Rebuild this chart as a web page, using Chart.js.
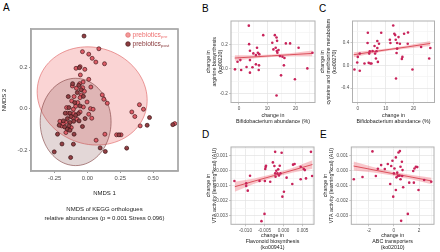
<!DOCTYPE html>
<html>
<head>
<meta charset="utf-8">
<script src="https://cdn.jsdelivr.net/npm/chart.js@4/dist/chart.umd.min.js"></script>
<style>
  body { margin: 0; background: #fff; width: 440px; height: 252px; position: relative; overflow: hidden; font-family: "Liberation Sans", Arial, sans-serif; }
  canvas { position: absolute; }
  .tag { position: absolute; font-size: 10px; line-height: 10px; color: #000; }
</style>
</head>
<body>
<div class="tag" style="left:3px;top:2.7px">A</div>
<div class="tag" style="left:202px;top:4.4px">B</div>
<div class="tag" style="left:319px;top:4.4px">C</div>
<div class="tag" style="left:202px;top:130.4px">D</div>
<div class="tag" style="left:320px;top:130.4px">E</div>
<canvas id="panelA" width="196" height="252" style="left:0;top:0"></canvas>
<canvas id="panelB" width="124" height="126" style="left:196px;top:0"></canvas>
<canvas id="panelC" width="122" height="126" style="left:318px;top:0"></canvas>
<canvas id="panelD" width="124" height="126" style="left:196px;top:126px"></canvas>
<canvas id="panelE" width="122" height="126" style="left:318px;top:126px"></canvas>
<script>
// A - NMDS scores of KEGG orthologues
const preX = [-0.038, 0.010, 0.087, 0.036, 0.064, 0.130, -0.056, -0.087, -0.020, -0.054, 0.010, -0.033, -0.115, -0.059, -0.036, 0.026, -0.023, -0.102, -0.046, -0.056, 0.113, 0.125, 0.151, -0.074, -0.090, -0.107, 0.023, 0.043, -0.151, -0.105, -0.113, 0.010, 0.033, -0.166, -0.197, -0.123, -0.164, 0.133, 0.066, 0.222, 0.256, 0.338, 0.361, 0.396, 0.427, 0.402, 0.665, -0.210, -0.184, -0.079, -0.031, -0.084, -0.003, -0.120, -0.159, -0.056];
const preY = [0.274, 0.262, 0.288, 0.242, 0.224, 0.216, 0.202, 0.194, 0.189, 0.162, 0.141, 0.128, 0.109, 0.120, 0.101, 0.104, 0.083, 0.058, 0.066, 0.053, 0.066, 0.045, 0.026, 0.029, 0.011, -0.003, 0.000, -0.003, -0.022, -0.024, -0.043, -0.027, -0.046, -0.066, -0.083, -0.091, -0.115, -0.123, -0.152, -0.126, -0.126, -0.016, -0.038, 0.019, -0.003, -0.083, -0.072, -0.061, -0.072, -0.051, 0.008, 0.098, 0.032, 0.037, 0.005, -0.016];
const postX = [-0.026, -0.061, -0.113, -0.066, -0.049, -0.146, -0.031, -0.097, -0.056, -0.141, -0.169, -0.133, -0.069, -0.125, -0.153, -0.090, -0.184, -0.133, -0.105, -0.215, -0.174, -0.141, -0.153, -0.133, -0.038, -0.228, -0.102, -0.194, -0.107, -0.253, -0.128, 0.097, 0.136, 0.240, 0.299, 0.473, 0.455, 0.650, -0.064, -0.077, -0.018];
const postY = [0.349, 0.197, 0.120, 0.112, 0.091, 0.058, 0.059, 0.029, 0.013, 0.005, -0.022, -0.022, -0.024, -0.038, -0.048, -0.032, -0.059, -0.067, -0.061, -0.080, -0.088, -0.083, -0.099, -0.104, -0.086, -0.123, -0.123, -0.170, -0.171, -0.208, -0.235, -0.189, -0.206, -0.126, -0.190, -0.043, -0.080, -0.077, -0.059, 0.077, -0.048];
const preEllipseCentre = [0.036, 0.061];
const preEllipseAxes = [[0.399, -0.091], [-0.128, -0.218]];
const postEllipseCentre = [-0.09, -0.064];
const postEllipseAxes = [[0.0, 0.21], [0.27, 0.0]];
const aXTicks = [-0.25, 0, 0.25, 0.5];
const aXLabels = ["-0.25", "0.00", "0.25", "0.50"];
const aYTicks = [-0.2, 0, 0.2];
const aYLabels = ["-0.2", "0.0", "0.2"];

// B, C - Bifidobacterium abundance vs pathways
const bX = [-1.4, -0.5, 0.8, 0.5, 2.7, 3.5, 3.6, 3.9, 3.9, 3.9, 4.8, 5.1, 6.0, 6.0, 6.4, 6.7, 7.1, 7.0, 7.2, 8.6, 11.8, 12.7, 13.3, 13.5, 12.2, 13.0, 13.4, 13.6, 14.0, 14.5, 15.4, 15.9, 16.1, 16.6, 18.1, 14.9, 13.3, 19.8, 21.1, 24.2, 26.0];
const bY = [-0.003, 0.060, -0.008, 0.073, 0.016, 0.356, 0.204, 0.150, 0.073, -0.030, 0.014, 0.128, 0.038, 0.114, 0.174, 0.133, 0.030, -0.008, 0.122, 0.278, 0.215, 0.278, 0.258, 0.231, 0.161, 0.174, 0.147, 0.133, 0.155, 0.106, 0.101, 0.030, 0.090, 0.210, 0.210, -0.052, -0.218, -0.084, 0.174, 0.005, 0.133];
const bFitX = [-1.5, 5, 11.5, 18, 26];
const bFitY = [0.090, 0.099, 0.108, 0.117, 0.128];
const bFitLo = [0.068, 0.086, 0.098, 0.104, 0.104];
const bFitHi = [0.112, 0.112, 0.118, 0.130, 0.152];

const cX = [-1.2, -0.2, 0.0, 0.7, 0.7, 2.4, 3.6, 3.5, 3.9, 4.1, 4.3, 4.5, 4.9, 5.3, 6.0, 6.2, 6.5, 6.7, 7.0, 7.0, 7.2, 7.6, 8.4, 11.5, 11.7, 12.7, 13.1, 13.4, 13.6, 13.7, 14.1, 14.6, 15.1, 13.9, 14.1, 15.8, 16.0, 16.6, 18.0, 17.9, 19.6, 22.7, 25.6, 26.0];
const cY = [-0.070, 0.053, 0.152, 0.210, -0.093, 0.035, 0.578, 0.397, 0.047, 0.210, 0.251, 0.035, 0.035, 0.257, 0.345, 0.210, 0.123, 0.251, 0.310, 0.432, 0.064, 0.385, 0.578, 0.456, 0.397, 0.707, 0.561, 0.537, 0.456, -0.228, 0.397, 0.502, 0.385, 0.222, 0.298, 0.117, 0.152, 0.561, 0.584, 0.385, -0.070, 0.327, 0.123, 0.310];
const cFitX = [-1.5, 5, 11.5, 18, 26];
const cFitY = [0.19, 0.24, 0.285, 0.33, 0.39];
const cFitLo = [0.145, 0.212, 0.265, 0.302, 0.345];
const cFitHi = [0.235, 0.268, 0.305, 0.358, 0.435];

const bifidoTicks = [0, 10, 20];
const bifidoLabels = ["0", "10", "20"];
const bifidoMinor = [5, 15, 25];

// D, E - VTA activity vs pathways
const dX = [-0.0129, -0.0098, -0.0098, -0.0094, -0.0088, -0.0063, -0.0058, -0.0050, -0.0049, -0.0048, -0.0047, -0.0046, -0.0035, -0.0028, -0.0022, -0.0024, -0.0022, -0.0021, -0.0019, -0.0016, -0.0014, -0.0012, -0.0010, -0.0008, -0.0005, -0.0003, 0.0001, 0.0008, 0.0023, 0.0025, 0.0029, 0.0045, 0.0045, 0.0053, 0.0056, 0.0059, 0.0072, 0.0075];
const dY = [-0.00068, -0.00084, -0.00101, -0.00132, -0.00033, -0.00068, -0.00334, -0.00286, -0.00068, 0.00011, 0.00024, 0.00033, -0.00073, 0.00055, 0.00125, 0.00031, -0.00018, -0.00040, 0.00000, -0.00018, 0.00009, -0.00031, 0.00033, -0.00018, 0.00119, -0.00172, -0.00139, -0.00046, -0.00088, 0.00040, 0.00044, 0.00026, -0.00057, 0.00011, 0.00004, -0.00051, 0.00125, -0.00035];
const dFitX = [-0.0128, -0.0077, -0.0026, 0.0025, 0.0076];
const dFitY = [-0.00106, -0.00069, -0.00033, 0.00004, 0.00041];
const dFitLo = [-0.00139, -0.00087, -0.00045, -0.00012, 0.00013];
const dFitHi = [-0.00073, -0.00051, -0.00021, 0.00020, 0.00069];
const dXTicks = [-0.01, -0.005, 0, 0.005];
const dXLabels = ["-0.010", "-0.005", "0.000", "0.005"];
const dXMinor = [-0.0125, -0.0075, -0.0025, 0.0025, 0.0075];

const eX = [-3.18, -2.49, -1.70, -1.43, -1.27, -1.01, -0.72, -0.48, -0.29, -0.21, -0.11, -0.05, 0.00, 0.05, 0.16, 0.16, 0.21, 0.27, 0.32, 0.37, 0.48, 0.45, 0.53, 0.53, 0.58, 0.64, 0.66, 0.69, 0.74, 1.11, 1.22, 1.54, 1.64, 1.75, 1.86, 1.59, 1.96, 2.41, 2.97];
const eY = [-0.00057, -0.00042, 0.00128, -0.00035, 0.00013, 0.00037, 0.00011, 0.00044, -0.00088, 0.00031, 0.00066, -0.00172, -0.00018, 0.00015, 0.00088, -0.00128, -0.00044, -0.00013, -0.00035, 0.00121, 0.00130, -0.00033, -0.00057, 0.00026, -0.00332, 0.00059, -0.00035, 0.00004, -0.00110, -0.00286, -0.00079, -0.00002, 0.00015, 0.00026, 0.00024, -0.00079, -0.00128, -0.00062, -0.00073];
const eFitX = [-3.2, -1.65, -0.1, 1.45, 3.0];
const eFitY = [0.00031, 0.00006, -0.00019, -0.00043, -0.00068];
const eFitLo = [0.00001, -0.00012, -0.00031, -0.00058, -0.00090];
const eFitHi = [0.00061, 0.00024, -0.00007, -0.00028, -0.00046];
const eXTicks = [-2, 0, 2];
const eXLabels = ["-2", "0", "2"];
const eXMinor = [-3, -1, 1, 3];

const vtaTicks = [-0.003, -0.002, -0.001, 0, 0.001];
const vtaLabels = ["-0.003", "-0.002", "-0.001", "0.000", "0.001"];
const vtaMinor = [-0.0025, -0.0015, -0.0005, 0.0005, 0.0015];

const font = "'Liberation Sans', Arial, sans-serif";
const pairs = (xs, ys) => xs.map((x, i) => ({ x: x, y: ys[i] }));
const tickList = (major, minor) =>
  major.map((v) => ({ value: v })).concat(minor.map((v) => ({ value: v, minor: true })));

const strokeFrame = (chart, colour, width) => {
  const a = chart.chartArea;
  const ctx = chart.ctx;
  ctx.save();
  ctx.strokeStyle = colour;
  ctx.lineWidth = width;
  ctx.strokeRect(a.left, a.top, a.right - a.left, a.bottom - a.top);
  ctx.restore();
};

// grey frame round the plotting area
const frame = (colour, width) => ({
  id: "panelBox",
  afterDraw(chart) { strokeFrame(chart, colour, width); },
});

const ellipseList = [
  { c: preEllipseCentre, ax: preEllipseAxes, fill: "rgba(240,120,120,0.32)", line: "rgba(226,110,110,0.85)" },
  { c: postEllipseCentre, ax: postEllipseAxes, fill: "rgba(115,55,55,0.2)", line: "rgba(125,60,60,0.75)" },
];

const ellipses = {
  id: "ellipses",
  beforeDatasetsDraw(chart) {
    const { ctx, chartArea: a, scales } = chart;
    strokeFrame(chart, "#a8a8a8", 1.3);
    ctx.save();
    ctx.beginPath();
    ctx.rect(a.left, a.top, a.right - a.left, a.bottom - a.top);
    ctx.clip();
    ellipseList.forEach((e) => {
      ctx.beginPath();
      for (let k = 0; k <= 90; k++) {
        const t = (k / 90) * Math.PI * 2;
        const vx = e.c[0] + e.ax[0][0] * Math.cos(t) + e.ax[1][0] * Math.sin(t);
        const vy = e.c[1] + e.ax[0][1] * Math.cos(t) + e.ax[1][1] * Math.sin(t);
        const px = scales.x.getPixelForValue(vx);
        const py = scales.y.getPixelForValue(vy);
        if (k === 0) ctx.moveTo(px, py);
        else ctx.lineTo(px, py);
      }
      ctx.closePath();
      ctx.fillStyle = e.fill;
      ctx.fill();
      ctx.strokeStyle = e.line;
      ctx.lineWidth = 0.8;
      ctx.stroke();
    });
    ctx.restore();
  },
};

const nmdsLegend = {
  id: "nmdsLegend",
  afterDatasetsDraw(chart) {
    const { ctx, chartArea: a } = chart;
    const rows = [
      { sub: "pre", dot: "#f39a9a", edge: "#e06a6a", text: "#ee7070" },
      { sub: "post", dot: "#8d3c3f", edge: "#4a1a1c", text: "#8a3a3c" },
    ];
    ctx.save();
    rows.forEach((r, i) => {
      const x = a.right - 50;
      const y = a.top + 6 + i * 9;
      ctx.beginPath();
      ctx.arc(x, y, 2.3, 0, Math.PI * 2);
      ctx.fillStyle = r.dot;
      ctx.fill();
      ctx.strokeStyle = r.edge;
      ctx.lineWidth = 0.7;
      ctx.stroke();
      ctx.fillStyle = r.text;
      ctx.textBaseline = "middle";
      ctx.font = "6.6px " + font;
      ctx.fillText("prebiotics", x + 4.5, y);
      const w = ctx.measureText("prebiotics").width;
      ctx.font = "4.4px " + font;
      ctx.fillText(r.sub, x + 4.8 + w, y + 2);
    });
    ctx.restore();
  },
};

new Chart(document.getElementById("panelA"), {
  type: "scatter",
  data: {
    datasets: [
      {
        data: pairs(postX, postY),
        pointRadius: 2,
        pointBackgroundColor: "#933f44",
        pointBorderColor: "#3a1416",
        pointBorderWidth: 0.7,
      },
      {
        data: pairs(preX, preY),
        pointRadius: 2,
        pointBackgroundColor: "#dd5c66",
        pointBorderColor: "#4a1a1d",
        pointBorderWidth: 0.7,
      },
    ],
  },
  options: {
    responsive: false,
    animation: false,
    layout: { padding: { left: 0, top: 29, right: 18, bottom: 30 } },
    plugins: { legend: { display: false }, tooltip: { enabled: false } },
    scales: {
      x: {
        min: -0.43,
        max: 0.69,
        afterBuildTicks: (s) => { s.ticks = tickList(aXTicks, []); },
        afterFit: (s) => { s.height = 51; },
        ticks: {
          autoSkip: false, maxRotation: 0, padding: 1.5, color: "#4d4d4d",
          font: { size: 5.8, family: font },
          callback: (v) => aXLabels[aXTicks.indexOf(v)],
        },
        grid: { display: true, drawOnChartArea: false, tickLength: 2, tickColor: "#9a9a9a" },
        border: { display: true, color: "#a8a8a8", width: 1.3 },
        title: {
          display: true,
          text: ["NMDS 1", "", "NMDS of KEGG orthologues", "relative abundances (p = 0.001 Stress 0.096)"],
          color: "#1a1a1a",
          font: { size: 6, family: font, lineHeight: 1.38 },
          padding: 0,
        },
      },
      y: {
        min: -0.30,
        max: 0.383,
        afterBuildTicks: (s) => { s.ticks = tickList(aYTicks, []); },
        afterFit: (s) => { s.width = 31; },
        ticks: {
          autoSkip: false, padding: 1.5, color: "#4d4d4d",
          font: { size: 5.8, family: font },
          callback: (v) => aYLabels[aYTicks.indexOf(v)],
        },
        grid: { display: true, drawOnChartArea: false, tickLength: 2, tickColor: "#9a9a9a" },
        border: { display: true, color: "#a8a8a8", width: 1.3 },
        title: {
          display: true,
          text: "NMDS 2",
          color: "#1a1a1a",
          font: { size: 6, family: font, lineHeight: 1.2 },
          padding: { top: 1, bottom: 0 },
        },
      },
    },
  },
  plugins: [ellipses, nmdsLegend, frame("#a8a8a8", 1.3)],
});

function scatterPanel(id, p) {
  const axis = (range, major, labels, minor, size, title, titlePad, isX) => ({
    min: range[0],
    max: range[1],
    afterBuildTicks: (s) => { s.ticks = tickList(major, minor); },
    afterFit: (s) => { if (isX) s.height = size; else s.width = size; },
    ticks: {
      autoSkip: false, maxRotation: 0, padding: 1.3, color: "#4d4d4d",
      font: { size: 4.6, family: font },
      callback: (v, i, t) => (t[i].minor ? "" : labels[major.indexOf(v)]),
    },
    grid: {
      color: (c) => (c.tick && c.tick.minor ? "#f3f3f3" : "#e3e3e3"),
      lineWidth: 0.7,
      tickLength: 2,
      tickColor: (c) => (c.tick && c.tick.minor ? "rgba(0,0,0,0)" : "#b0b0b0"),
    },
    border: { display: false },
    title: {
      display: true,
      text: title,
      color: "#1a1a1a",
      font: { size: 5.3, family: font, lineHeight: 1.13 },
      padding: titlePad,
    },
  });

  new Chart(document.getElementById(id), {
    type: "scatter",
    data: {
      datasets: [
        { data: pairs(p.xs, p.ys), pointRadius: 1.3, pointBackgroundColor: "#c8235a", pointBorderWidth: 0, order: 0 },
        { data: pairs(p.fitX, p.fitY), showLine: true, pointRadius: 0, borderColor: "#d84450", borderWidth: 0.9, order: 1 },
        { data: pairs(p.fitX, p.fitHi), showLine: true, pointRadius: 0, borderWidth: 0, backgroundColor: "rgba(240,120,130,0.42)", fill: "+1", order: 2 },
        { data: pairs(p.fitX, p.fitLo), showLine: true, pointRadius: 0, borderWidth: 0, order: 3 },
      ],
    },
    options: {
      responsive: false,
      animation: false,
      layout: { padding: p.pad },
      plugins: { legend: { display: false }, tooltip: { enabled: false } },
      scales: {
        x: axis(p.xRange, p.xTicks, p.xLabels, p.xMinor, p.xHeight, p.xTitle, { top: 0, bottom: 0 }, true),
        y: axis(p.yRange, p.yTicks, p.yLabels, p.yMinor, p.yWidth, p.yTitle, { top: p.yTitlePad, bottom: 0 }, false),
      },
    },
    plugins: [frame("#b0b0b0", 1)],
  });
}

scatterPanel("panelB", {
  xs: bX, ys: bY, fitX: bFitX, fitY: bFitY, fitLo: bFitLo, fitHi: bFitHi,
  xRange: [-2.8, 26.9], xTicks: bifidoTicks, xLabels: bifidoLabels, xMinor: bifidoMinor,
  yRange: [-0.275, 0.394], yTicks: [-0.2, 0, 0.2], yLabels: ["-0.2", "0.0", "0.2"], yMinor: [-0.1, 0.1, 0.3],
  xTitle: ["change in", "Bifidobacterium abundance (%)"],
  yTitle: ["change in", "arginine biosynthesis", "(ko00220)"],
  pad: { left: 0, top: 21, right: 5, bottom: 1.3 }, xHeight: 22.2, yWidth: 35, yTitlePad: 9.3,
});

scatterPanel("panelC", {
  xs: cX, ys: cY, fitX: cFitX, fitY: cFitY, fitLo: cFitLo, fitHi: cFitHi,
  xRange: [-1.9, 27.5], xTicks: bifidoTicks, xLabels: bifidoLabels, xMinor: bifidoMinor,
  yRange: [-0.653, 0.786], yTicks: [-0.4, 0, 0.4], yLabels: ["-0.4", "0.0", "0.4"], yMinor: [-0.2, 0.2, 0.6],
  xTitle: ["change in", "Bifidobacterium abundance (%)"],
  yTitle: ["change in", "cysteine and methionine metabolism", "(ko00270)"],
  pad: { left: 0, top: 21, right: 5.5, bottom: 1.3 }, xHeight: 22.2, yWidth: 34.5, yTitlePad: 1.7,
});

scatterPanel("panelD", {
  xs: dX, ys: dY, fitX: dFitX, fitY: dFitY, fitLo: dFitLo, fitHi: dFitHi,
  xRange: [-0.0138, 0.008], xTicks: dXTicks, xLabels: dXLabels, xMinor: dXMinor,
  yRange: [-0.00355, 0.00157], yTicks: vtaTicks, yLabels: vtaLabels, yMinor: vtaMinor,
  xTitle: ["change in", "Flavonoid biosynthesis", "(ko00941)"],
  yTitle: ["change in", "VTA activity (learning*kcal) (AU)"],
  pad: { left: 0, top: 21, right: 6, bottom: 1.3 }, xHeight: 26.4, yWidth: 35, yTitlePad: 9.3,
});

scatterPanel("panelE", {
  xs: eX, ys: eY, fitX: eFitX, fitY: eFitY, fitLo: eFitLo, fitHi: eFitHi,
  xRange: [-3.38, 3.19], xTicks: eXTicks, xLabels: eXLabels, xMinor: eXMinor,
  yRange: [-0.00355, 0.00157], yTicks: vtaTicks, yLabels: vtaLabels, yMinor: vtaMinor,
  xTitle: ["change in", "ABC transporters", "(ko02010)"],
  yTitle: ["change in", "VTA activity (learning*kcal) (AU)"],
  pad: { left: 0, top: 21, right: 6, bottom: 1.3 }, xHeight: 26.4, yWidth: 33.3, yTitlePad: 5,
});
</script>
</body>
</html>
